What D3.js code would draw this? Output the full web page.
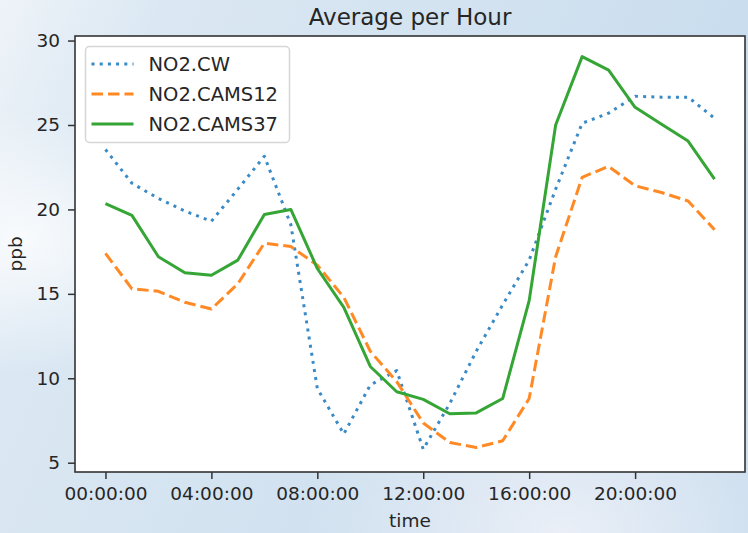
<!DOCTYPE html>
<html>
<head>
<meta charset="utf-8">
<script src="https://cdn.jsdelivr.net/npm/d3@7"></script>
<style>
  html, body { margin: 0; padding: 0; }
  body { width: 748px; height: 533px; overflow: hidden; }
  text { font-family: "DejaVu Sans", sans-serif; fill: #262626; }
</style>
</head>
<body>
<svg id="chart" width="748" height="533"></svg>
<script>
// hours of the day, 0..23
var hours = d3.range(0, 24);

var cw = [23.55, 21.55, 20.65, 19.9, 19.3, 21.2, 23.15, 19.1, 9.4, 6.7, 9.6, 10.45,
          5.8, 8.5, 11.6, 14.35, 17.0, 21.2, 25.1, 25.7, 26.7, 26.65, 26.65, 25.4];
var cams12 = [17.4, 15.3, 15.15, 14.5, 14.1, 15.6, 18.0, 17.8, 16.7, 14.8, 11.6, 9.8,
              7.35, 6.2, 5.9, 6.3, 8.8, 17.2, 21.9, 22.55, 21.4, 21.0, 20.5, 18.8];
var cams37 = [20.35, 19.65, 17.2, 16.25, 16.1, 17.0, 19.7, 20.0, 16.5, 14.2, 10.7, 9.2,
              8.75, 7.9, 7.95, 8.8, 14.6, 25.0, 29.05, 28.25, 26.05, 25.05, 24.05, 21.8];

var seriesNames = ['NO2.CW', 'NO2.CAMS12', 'NO2.CAMS37'];
var xTicks = [0, 4, 8, 12, 16, 20];
var xTickLabels = ['00:00:00', '04:00:00', '08:00:00', '12:00:00', '16:00:00', '20:00:00'];
var yTicks = [5, 10, 15, 20, 25, 30];

var series = [
    { name: seriesNames[0], values: cw,     color: '#3a8ac6', dash: '3,5.2' },
    { name: seriesNames[1], values: cams12, color: '#ff8a25', dash: '11.5,5' },
    { name: seriesNames[2], values: cams37, color: '#35a635', dash: null }
];

var box = { left: 75, top: 36, right: 745, bottom: 472 };

var svg = d3.select('#chart');

// blurred wallpaper behind the figure
var defs = svg.append('defs');
var bg = defs.append('linearGradient').attr('id', 'bg')
    .attr('x1', 0).attr('y1', 0).attr('x2', 1).attr('y2', 0.3);
bg.append('stop').attr('offset', '0%').attr('stop-color', '#eef3f8');
bg.append('stop').attr('offset', '20%').attr('stop-color', '#dbe8f3');
bg.append('stop').attr('offset', '60%').attr('stop-color', '#d2e2f0');
bg.append('stop').attr('offset', '100%').attr('stop-color', '#c8dcee');
var glow = defs.append('radialGradient').attr('id', 'glow')
    .attr('cx', 0.03).attr('cy', 0.45).attr('r', 0.25);
glow.append('stop').attr('offset', '0%').attr('stop-color', '#ffffff').attr('stop-opacity', 0.8);
glow.append('stop').attr('offset', '100%').attr('stop-color', '#ffffff').attr('stop-opacity', 0);
var glow2 = defs.append('radialGradient').attr('id', 'glow2')
    .attr('cx', 0.75).attr('cy', 1).attr('r', 0.35);
glow2.append('stop').attr('offset', '0%').attr('stop-color', '#eef1f8').attr('stop-opacity', 0.9);
glow2.append('stop').attr('offset', '100%').attr('stop-color', '#eef1f8').attr('stop-opacity', 0);

svg.append('rect').attr('width', 748).attr('height', 533).attr('fill', 'url(#bg)');
svg.append('rect').attr('width', 748).attr('height', 533).attr('fill', 'url(#glow)');
svg.append('rect').attr('width', 748).attr('height', 533).attr('fill', 'url(#glow2)');

var x = d3.scaleLinear().domain([-1.15, 24.15]).range([box.left, box.right]);
var y = d3.scaleLinear().domain([4.45, 30.27]).range([box.bottom, box.top]);

// plot area
svg.append('rect')
    .attr('x', box.left).attr('y', box.top)
    .attr('width', box.right - box.left).attr('height', box.bottom - box.top)
    .attr('fill', '#fff');

// lines
var line = d3.line()
    .x((d, i) => x(hours[i]))
    .y(d => y(d));

var clip = defs.append('clipPath').attr('id', 'clip');
clip.append('rect')
    .attr('x', box.left).attr('y', box.top)
    .attr('width', box.right - box.left).attr('height', box.bottom - box.top);

svg.append('g').attr('clip-path', 'url(#clip)')
    .selectAll('path')
    .data(series)
    .enter().append('path')
    .attr('d', s => line(s.values))
    .attr('fill', 'none')
    .attr('stroke', s => s.color)
    .attr('stroke-width', 3)
    .attr('stroke-dasharray', s => s.dash)
    .attr('stroke-linejoin', 'round');

// axes
var xAxis = d3.axisBottom(x)
    .tickValues(xTicks)
    .tickFormat((d, i) => xTickLabels[i])
    .tickSize(7).tickPadding(8);

var yAxis = d3.axisLeft(y)
    .tickValues(yTicks)
    .tickSize(7).tickPadding(8);

var gx = svg.append('g')
    .attr('transform', `translate(0, ${ box.bottom })`)
    .call(xAxis);
var gy = svg.append('g')
    .attr('transform', `translate(${ box.left }, 0)`)
    .call(yAxis);

[gx, gy].forEach(function (g) {
    g.select('.domain').remove();
    g.selectAll('.tick line').attr('stroke', '#333').attr('stroke-width', 1.5);
    g.selectAll('.tick text')
        .style('font-family', '"DejaVu Sans", sans-serif')
        .style('font-size', '18.5px')
        .attr('fill', '#262626');
});

// spines
svg.append('rect')
    .attr('x', box.left).attr('y', box.top)
    .attr('width', box.right - box.left).attr('height', box.bottom - box.top)
    .attr('fill', 'none')
    .attr('stroke', '#333')
    .attr('stroke-width', 1.6);

// titles
svg.append('text')
    .attr('x', (box.left + box.right) / 2)
    .attr('y', 25)
    .attr('text-anchor', 'middle')
    .style('font-size', '23px')
    .text('Average per Hour');

svg.append('text')
    .attr('x', (box.left + box.right) / 2)
    .attr('y', 527)
    .attr('text-anchor', 'middle')
    .style('font-size', '18.5px')
    .text('time');

svg.append('text')
    .attr('transform', `translate(22, ${ (box.top + box.bottom) / 2 }) rotate(-90)`)
    .attr('text-anchor', 'middle')
    .style('font-size', '18.5px')
    .text('ppb');

// legend
var legend = svg.append('g').attr('transform', 'translate(85.5, 46.5)');
legend.append('rect')
    .attr('width', 204).attr('height', 96)
    .attr('rx', 4).attr('ry', 4)
    .attr('fill', '#fff').attr('fill-opacity', 0.85)
    .attr('stroke', '#d6d6d6').attr('stroke-width', 1.5);

var items = legend.selectAll('.legend__item')
    .data(series)
    .enter().append('g')
    .attr('class', 'legend__item')
    .attr('transform', (s, i) => `translate(0, ${ 17.5 + i * 30 })`);

items.append('line')
    .attr('x1', 6).attr('x2', 48)
    .attr('stroke', s => s.color)
    .attr('stroke-width', 3)
    .attr('stroke-dasharray', s => s.dash);

items.append('text')
    .attr('x', 63)
    .attr('dy', '0.36em')
    .style('font-size', '19.5px')
    .text(s => s.name);
</script>
</body>
</html>
